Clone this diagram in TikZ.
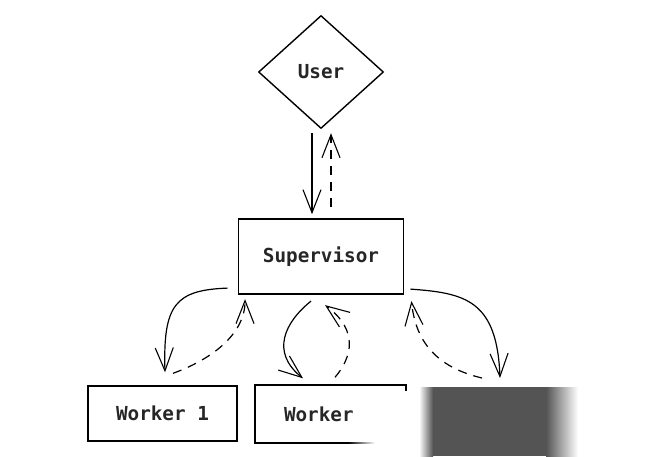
\documentclass[tikz,border=0pt]{standalone}
\usepackage{fontspec}
\setmonofont{DejaVu Sans Mono}
\usetikzlibrary{
  positioning,
  arrows.meta,
  shapes.geometric,
  fadings
}
\tikzfading[name=fadeRight, left color=transparent!100, right color=transparent!0]

\begin{document}
\begin{tikzpicture}[
    x=1pt,y=-1pt,line width=1.2pt,
    every node/.style={font=\ttfamily\bfseries\fontsize{19.3}{21}\selectfont,text=black!85},
    userNode/.style={draw,shape=diamond,inner sep=0pt,minimum width=125pt,minimum height=113pt,line width=1.4pt},
    boxNode/.style={draw,rectangle,inner sep=0pt,line width=1.4pt},
    callArrow/.style={-{Straight Barb[length=23pt,width=18pt,line width=1.1pt]}},
    backArrow/.style={callArrow,dash pattern=on 9pt off 7pt},
  ]
    \useasboundingbox (0,0) rectangle (647,456);

    % user and supervisor
    \node[userNode] (user) at (321,72) {User};
    \node[boxNode, line width=1.9pt, minimum width=165pt, minimum height=75pt, below=89pt of user] (supervisor) {Supervisor};

    \draw[callArrow] ([xshift=-9pt,yshift=-4pt]user.south) -- ([xshift=-9pt,yshift=4pt]supervisor.north);
    \draw[backArrow] ([xshift=10pt,yshift=11pt]supervisor.north) -- ([xshift=10pt,yshift=-4pt]user.south);

    % workers
    \node[boxNode, minimum width=149pt, minimum height=55pt] (worker1) at (162.5,413.5) {Worker 1};
    \node[boxNode, minimum width=151pt, minimum height=58pt, text width=93pt, align=left] (worker2) at (330.5,414) {Worker};
    \coordinate (w3in) at (500,378);
    \coordinate (w3out) at (482,378);

    \draw[callArrow] ([xshift=-10pt,yshift=7pt]supervisor.south west) .. controls (175,290) and (163,305) .. ([xshift=2.5pt,yshift=13pt]worker1.north);
    \draw[backArrow] ([xshift=10.5pt,yshift=12pt]worker1.north) .. controls (210,360) and (245,335) .. ([xshift=7.5pt,yshift=-4pt]supervisor.south west);

    \draw[callArrow] ([xshift=-10pt,yshift=-6pt]supervisor.south) .. controls (285,322) and (270,352) .. ([xshift=-27.5pt,yshift=6pt]worker2.north);
    \draw[backArrow] ([xshift=4.5pt,yshift=7pt]worker2.north) .. controls (358,350) and (352,325) .. ([xshift=4pt,yshift=-10pt]supervisor.south);

    \draw[callArrow] ([xshift=6pt,yshift=6pt]supervisor.south east) .. controls (465,293) and (497,300) .. (w3in);
    \draw[backArrow] (w3out) .. controls (440,368) and (416,345) .. ([xshift=7pt,yshift=-6pt]supervisor.south east);

    % blurred patch
    \fill[white,path fading=fadeRight] (348,391) rectangle (375,452);
    \fill[white] (375,391) rectangle (421,452);
    \shade[left color=white,right color=black!67] (419,387) rectangle (433,456);
    \fill[black!67] (433,387) rectangle (546,456);
    \shade[left color=black!67,right color=white] (546,387) rectangle (578,456);
\end{tikzpicture}
\end{document}
